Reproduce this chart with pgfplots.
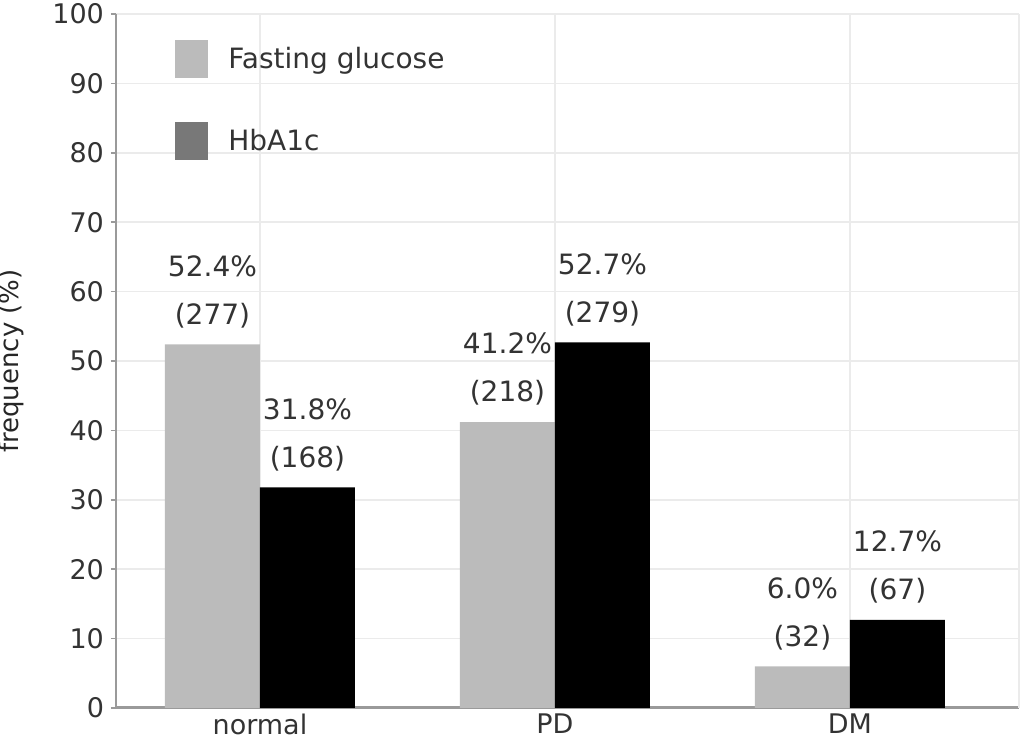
\documentclass[border=0pt]{standalone}
\usepackage{pgfplots}
\pgfplotsset{compat=1.18}
\usepackage{fontspec}
\setmainfont{DejaVu Sans}
\definecolor{bargray}{HTML}{BBBBBB}
\definecolor{legdark}{HTML}{787878}
\definecolor{gridgray}{HTML}{EBEBEB}
\definecolor{axisgray}{HTML}{9A9A9A}
\begin{document}
\begin{tikzpicture}
\begin{axis}[
  scale only axis,
  width=451.5pt, height=347pt,
  ybar, bar width=47.5pt,
  xmin=-0.488, xmax=2.573,
  ymin=0, ymax=100,
  xtick={0,1,2},
  xticklabels={normal,PD,DM},
  extra x ticks={2.573},
  extra x tick labels={},
  ytick={0,10,...,100},
  axis x line=bottom, axis y line=left,
  x axis line style={draw=axisgray, line width=1.5pt, -},
  y axis line style={draw=axisgray, line width=1pt, -},
  xmajorgrids, ymajorgrids,
  grid style={draw=gridgray, line width=0.8pt},
  tick align=outside,
  x tick style={draw=none},
  y tick style={draw=axisgray, line width=0.8pt},
  major tick length=2.5pt,
  /pgf/number format/assume math mode=true,
  ticklabel style={font=\fontsize{13.5}{16}\selectfont, text=black!80},
  xticklabel style={yshift=3pt},
  ylabel={frequency (\%)},
  every axis y label/.style={at={(rel axis cs:0,0.5)}, xshift=-52.5pt,
    rotate=90, anchor=center, font=\fontsize{13}{15}\selectfont, text=black!85},
  point meta=explicit symbolic,
  nodes near coords={\pgfplotspointmeta},
  every node near coord/.append style={font=\fontsize{14}{24}\selectfont,
    align=center, anchor=south, inner sep=0pt, yshift=8pt, text=black!80},
  legend image code/.code={\fill[#1, draw=none] (0pt,-9.5pt) rectangle (16.5pt,9.5pt);},
  legend style={at={(0.0653,0.9625)}, anchor=north west, draw=none, fill=none,
    inner sep=0pt, row sep=22pt, font=\fontsize{14}{17}\selectfont,
    nodes={inner sep=0pt, text=black!80},
    /tikz/every odd column/.append style={column sep=10pt}},
  legend cell align=left,
]
\addplot[fill=bargray, draw=none, bar shift=-23.75pt, forget plot] coordinates {
  (0,52.4) [52.4\%\\(277)]
  (1,41.2) [41.2\%\\(218)]
  (2,6.0)  [6.0\%\\(32)]
};
\addplot[fill=black, draw=none, bar shift=23.75pt, forget plot] coordinates {
  (0,31.8) [31.8\%\\(168)]
  (1,52.7) [52.7\%\\(279)]
  (2,12.7) [12.7\%\\(67)]
};
\addlegendimage{fill=bargray}
\addlegendentry{Fasting glucose}
\addlegendimage{fill=legdark}
\addlegendentry{HbA1c}
\end{axis}
\pgfresetboundingbox
\useasboundingbox (-58pt,-18pt) rectangle (454pt,354pt);
\end{tikzpicture}
\end{document}
